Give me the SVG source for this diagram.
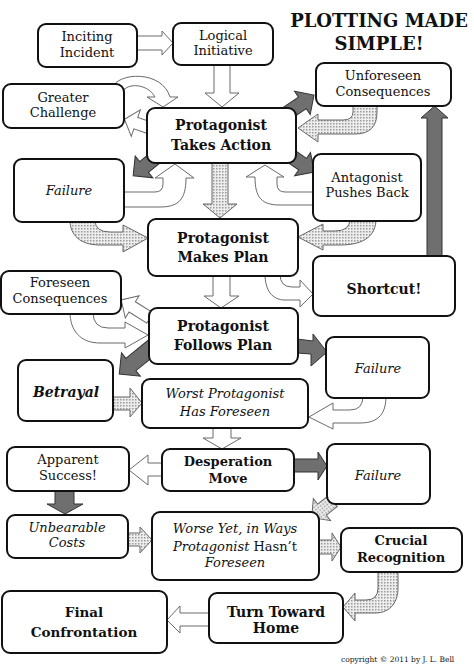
<svg xmlns="http://www.w3.org/2000/svg" width="474" height="670" viewBox="0 0 474 670">
<defs>
<pattern id="dots" width="3" height="3" patternUnits="userSpaceOnUse"><rect width="3" height="3" fill="#ededed"/><rect width="1.5" height="1.5" fill="#9a9a9a"/></pattern>
<style>
.box{fill:#fff;stroke:#111;stroke-width:2}
.w{fill:#fff;stroke:#6a6a6a;stroke-width:1}
.d{fill:#6f6f6f;stroke:#333;stroke-width:1}
.p{fill:url(#dots);stroke:#666;stroke-width:1}
text{font-family:"DejaVu Serif","Liberation Serif",serif;fill:#111;text-anchor:middle}
.r{font-size:13px}
.b{font-size:14px;font-weight:bold}
.s{font-size:13px;font-weight:bold}
.f{font-size:13.5px;font-weight:bold}
.i{font-size:13px;font-style:italic}
.t{font-size:18px;font-weight:bold}
.c{font-size:7.5px;text-anchor:start}
</style>
</defs>
<rect width="474" height="670" fill="#fff"/>
<g id="connectors">
<polygon class="w" points="137,36 162,36 162,31 173,43 162,55 162,50 137,50"/>
<polygon class="w" points="214,65 214,93 205,93 222,107 239,93 230,93 230,65"/>
<path class="w" d="M112,88 C118,72 162,70 170,97 L178,97 L163,107 L147,97 L155,97 C148,84 128,82 122,92 Z"/>
<polygon class="w" transform="translate(150,128) rotate(199)" points="0,-6 15,-6 15,-14 27,0 15,14 15,6 0,6"/>
<polygon class="d" transform="translate(165,150) rotate(141)" points="0,-7 27,-7 27,-14 41,0 27,14 27,7 0,7"/>
<path class="w" d="M122,192 L155,192 Q163,192 163,184 L163,178 L155,178 L175,164 L194,178 L186,178 C186,200 178,207 160,207 L122,207 Z"/>
<polygon class="p" points="212,163 212,204 203,204 220,218 237,204 228,204 228,163"/>
<polygon class="d" transform="translate(280,118) rotate(-34)" points="0,-7 27,-7 27,-14 41,0 27,14 27,7 0,7"/>
<path class="p" d="M353,104 L353,112 Q353,120 343,120 L318,120 L318,114 L298,128 L318,142 L318,134 L355,134 Q377,134 377,112 L377,104 Z"/>
<polygon class="d" transform="translate(282,150) rotate(34.5)" points="0,-7 25,-7 25,-14 39,0 25,14 25,7 0,7"/>
<path class="w" d="M315,192 L285,192 Q277,192 277,184 L277,177 L284,177 L265,165 L246,177 L255,177 C255,198 262,205 280,205 L315,205 Z"/>
<path class="p" d="M95,220 Q95,232 110,232 L123,232 L123,225 L148,238 L123,252 L123,245 L100,245 C80,245 70,235 70,220 Z"/>
<path class="p" d="M350,219 Q350,231 335,231 L323,231 L323,224 L298,237 L323,250 L323,245 L340,245 C365,245 376,235 376,219 Z"/>
<polygon class="w" points="213,276 213,296 204,296 221,308 239,296 230,296 230,276"/>
<path class="w" d="M280,274 Q280,287 292,287 L300,287 L300,280 L313,294 L300,307 L300,300 L285,300 C272,300 265,290 265,274 Z"/>
<polygon class="d" points="427,257 427,118 421,118 434.5,106 448,118 442,118 442,257"/>
<polygon class="w" transform="translate(150,318) rotate(212)" points="0,-6 21,-6 21,-13 34,0 21,13 21,6 0,6"/>
<path class="w" d="M93,312 Q93,328 108,328 L125,328 L125,322 L148,335 L125,348 L125,343 L100,343 C80,343 70,330 70,312 Z"/>
<polygon class="d" transform="translate(155,345) rotate(141)" points="0,-8 31,-8 31,-15 46,0 31,15 31,8 0,8"/>
<polygon class="d" points="297,339 313,341 313,334 327,352 311,366 311,354 297,353"/>
<polygon class="p" points="113,397 130,397 130,388 142,403 130,417 130,410 113,410"/>
<path class="w" d="M363,396 Q363,410 350,410 L333,410 L333,403 L309,417 L333,429 L333,423 L360,423 C380,423 386,412 386,396 Z"/>
<polygon class="w" points="213,428 213,438 203,438 222,449 241,438 231,438 231,428"/>
<polygon class="w" points="162,463 148,463 148,455 129,470 148,485 148,476 162,476"/>
<polygon class="d" points="294,459 318,459 318,452 327,466 318,480 318,472 294,472"/>
<polygon class="d" points="55,491 55,504 47,504 65,514 83,504 74,504 74,491"/>
<polygon class="p" points="128,533 140,533 140,527 152,540 140,553 140,546 128,546"/>
<polygon class="p" transform="translate(333,501) rotate(142)" points="0,-7 14,-7 14,-14 27,0 14,14 14,7 0,7"/>
<polygon class="p" points="319,540 332,540 332,533 341,547 332,561 332,554 319,554"/>
<path class="p" d="M378,570 L378,588 Q378,600 366,600 L355,600 L355,593 L343,607 L355,621 L355,613 L375,613 C392,613 398,600 398,588 L398,570 Z"/>
<polygon class="w" points="209,613 180,613 180,606 167,620 180,633 180,626 209,626"/>
</g>
<g id="title"><text class="t" x="379" y="27">PLOTTING MADE</text><text class="t" x="379" y="50">SIMPLE!</text></g>
<g id="n-inciting"><rect class="box" x="38" y="24" width="99" height="43" rx="8"/><text class="r" x="87" y="41">Inciting</text><text class="r" x="87" y="57">Incident</text></g>
<g id="n-logical"><rect class="box" x="173" y="23" width="100" height="42" rx="8"/><text class="r" x="223" y="40">Logical</text><text class="r" x="223" y="55">Initiative</text></g>
<g id="n-unforeseen"><rect class="box" x="316" y="63" width="135" height="43" rx="8"/><text class="r" x="383" y="80">Unforeseen</text><text class="r" x="383" y="96">Consequences</text></g>
<g id="n-greater"><rect class="box" x="3" y="84" width="121" height="44" rx="8"/><text class="r" x="63" y="102">Greater</text><text class="r" x="63" y="117">Challenge</text></g>
<g id="n-takes-action"><rect class="box" x="147" y="108" width="149" height="55" rx="8"/><text class="b" x="221" y="130">Protagonist</text><text class="b" x="221" y="150">Takes Action</text></g>
<g id="n-failure1"><rect class="box" x="14" y="159" width="110" height="63" rx="8"/><text class="i" x="69" y="195">Failure</text></g>
<g id="n-antagonist"><rect class="box" x="313" y="154" width="108" height="67" rx="8"/><text class="r" x="367" y="182">Antagonist</text><text class="r" x="367" y="197">Pushes Back</text></g>
<g id="n-makes-plan"><rect class="box" x="148" y="219" width="150" height="57" rx="8"/><text class="b" x="223" y="243">Protagonist</text><text class="b" x="223" y="262">Makes Plan</text></g>
<g id="n-shortcut"><rect class="box" x="313" y="256" width="142" height="60" rx="8"/><text class="b" x="384" y="294">Shortcut!</text></g>
<g id="n-foreseen"><rect class="box" x="1" y="271" width="120" height="43" rx="8"/><text class="r" x="60" y="287">Foreseen</text><text class="r" x="60" y="303">Consequences</text></g>
<g id="n-follows-plan"><rect class="box" x="149" y="308" width="149" height="56" rx="8"/><text class="b" x="223" y="331">Protagonist</text><text class="b" x="223" y="350">Follows Plan</text></g>
<g id="n-failure2"><rect class="box" x="326" y="337" width="103" height="61" rx="8"/><text class="i" x="378" y="373">Failure</text></g>
<g id="n-betrayal"><rect class="box" x="18" y="360" width="95" height="61" rx="8"/><text class="b" x="66" y="397" font-style="italic">Betrayal</text></g>
<g id="n-worst"><rect class="box" x="142" y="379" width="166" height="49" rx="8"/><text class="i" x="225" y="398">Worst Protagonist</text><text class="i" x="225" y="416">Has Foreseen</text></g>
<g id="n-apparent"><rect class="box" x="7" y="447" width="122" height="44" rx="8"/><text class="r" x="68" y="464">Apparent</text><text class="r" x="68" y="480">Success!</text></g>
<g id="n-desperation"><rect class="box" x="162" y="449" width="132" height="42" rx="8"/><text class="s" x="228" y="466">Desperation</text><text class="s" x="228" y="483">Move</text></g>
<g id="n-failure3"><rect class="box" x="327" y="444" width="103" height="60" rx="8"/><text class="i" x="378" y="480">Failure</text></g>
<g id="n-unbearable"><rect class="box" x="7" y="515" width="121" height="43" rx="8"/><text class="i" x="67" y="532">Unbearable</text><text class="i" x="67" y="547">Costs</text></g>
<g id="n-worse-yet"><rect class="box" x="152" y="512" width="167" height="68" rx="8"/><text class="i" x="235" y="533">Worse Yet, in Ways</text><text class="r" x="235" y="551"><tspan font-style="italic">Protagonist</tspan> Hasn’t</text><text class="i" x="235" y="567">Foreseen</text></g>
<g id="n-crucial"><rect class="box" x="341" y="528" width="121" height="44" rx="8"/><text class="s" x="401" y="545">Crucial</text><text class="s" x="401" y="562">Recognition</text></g>
<g id="n-final"><rect class="box" x="2" y="591" width="165" height="62" rx="8"/><text class="f" x="84" y="617">Final</text><text class="f" x="84" y="637">Confrontation</text></g>
<g id="n-turn"><rect class="box" x="209" y="593" width="134" height="50" rx="8"/><text class="b" x="276" y="617">Turn Toward</text><text class="b" x="276" y="633">Home</text></g>
<text class="c" x="341" y="662">copyright © 2011 by J. L. Bell</text>
</svg>
